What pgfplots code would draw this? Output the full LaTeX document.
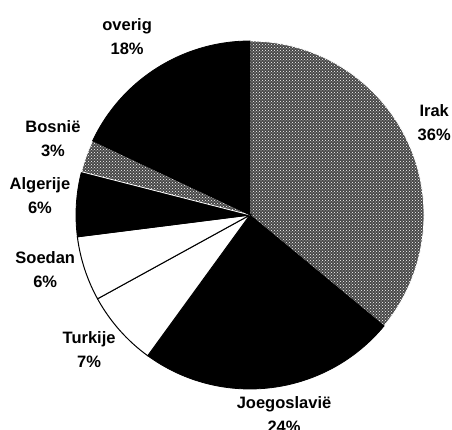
\documentclass[border=0pt]{standalone}
\usepackage{fontspec}
\setmainfont{Liberation Sans}
\usepackage{pgfplots}
\usepackage{pgfplotstable}
\pgfplotsset{compat=1.18}
\usetikzlibrary{patterns}

% share per land (%), slices clockwise from 12 o'clock
% lr = label radius, da = label angle shift from slice middle
\pgfplotstableread[col sep=comma]{
name,pct,sty,lr,da
Irak,36,speck,206,1.4
Joegoslavië,24,dark,202,2.5
Turkije,7,light,210,-1.4
Soedan,6,light,212,-3
Algerije,6,dark,211,-1.8
Bosnië,3,speck,211.5,-1.5
overig,18,dark,217,2.1
}\piedata

\tikzset{
  speck/.style={fill=black!72, postaction={pattern=crosshatch dots, pattern color=white}, draw=white, line width=0.8pt},
  dark/.style={fill=black, draw=black, line width=0.8pt},
  light/.style={fill=white, draw=black, line width=1pt},
  lbl/.style={align=center, font=\fontsize{16.5}{24}\selectfont\bfseries, inner sep=0pt},
}

\begin{document}
\begin{tikzpicture}
\begin{axis}[
    hide axis,
    scale only axis,
    x=1pt, y=1pt,
    xmin=-250, xmax=202,
    ymin=-215, ymax=215,
]
\pgfplotstablegetrowsof{\piedata}
\pgfmathtruncatemacro{\nrows}{\pgfplotsretval-1}
\def\cum{90}
\pgfplotsforeachungrouped \i in {0,...,\nrows}{%
  \pgfplotstablegetelem{\i}{pct}\of{\piedata}\let\pct\pgfplotsretval
  \pgfplotstablegetelem{\i}{sty}\of{\piedata}\let\sty\pgfplotsretval
  \pgfplotstablegetelem{\i}{name}\of{\piedata}\let\nm\pgfplotsretval
  \pgfplotstablegetelem{\i}{lr}\of{\piedata}\let\lr\pgfplotsretval
  \pgfplotstablegetelem{\i}{da}\of{\piedata}\let\da\pgfplotsretval
  \pgfmathsetmacro{\endang}{\cum-3.6*\pct}
  \pgfmathsetmacro{\midang}{\cum-1.8*\pct+\da}
  \pgfmathsetmacro{\sx}{174*cos(\cum)}
  \pgfmathsetmacro{\sy}{174*sin(\cum)}
  \pgfmathsetmacro{\lx}{\lr*cos(\midang)}
  \pgfmathsetmacro{\ly}{\lr*sin(\midang)}
  \edef\temp{%
    \noexpand\path[\sty] (axis cs:0,0) -- (axis cs:\sx,\sy)
      arc[start angle=\cum, end angle=\endang, radius=174pt] -- cycle;
    \noexpand\node[lbl] at (axis cs:\lx,\ly) {\nm\noexpand\\\pct\noexpand\%};
  }%
  \temp
  \global\let\cum\endang
}
\end{axis}
\pgfresetboundingbox
\path[use as bounding box] (current axis.south west) rectangle (current axis.north east);
\end{tikzpicture}
\end{document}
